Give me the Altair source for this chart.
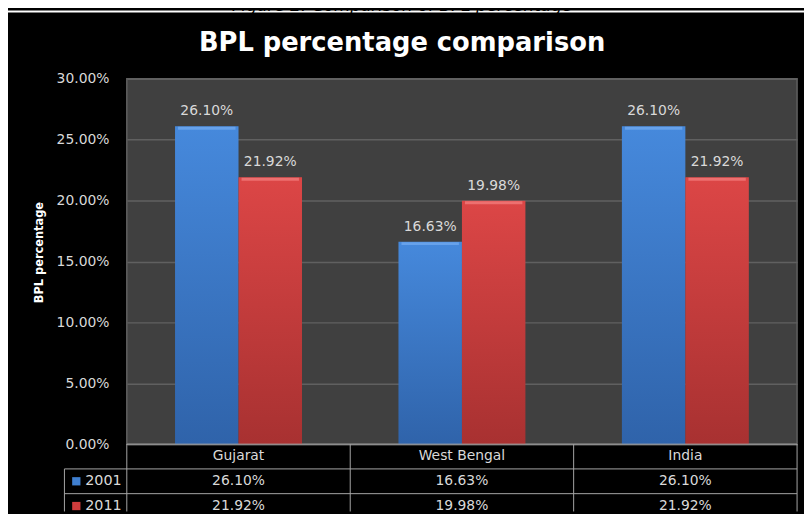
import altair as alt
import pandas as pd

# ---- data ----
categories = ["Gujarat", "West Bengal", "India"]
years = ["2001", "2011"]
bpl_2001 = [26.10, 16.63, 26.10]
bpl_2011 = [21.92, 19.98, 21.92]
y_ticks = [0, 0.05, 0.10, 0.15, 0.20, 0.25, 0.30]
title_text = "BPL percentage comparison"
caption_text = "Figure 2: Comparison of BPL percentage"
y_title = "BPL percentage"

rows = []
for c, a, b in zip(categories, bpl_2001, bpl_2011):
    rows.append({"Category": c, "Year": "2001", "value": a / 100})
    rows.append({"Category": c, "Year": "2011", "value": b / 100})
df = pd.DataFrame(rows)

table_rows = []
for c in categories:
    table_rows.append({"Category": c, "row": "h", "text": c})
for r in rows:
    table_rows.append({"Category": r["Category"], "row": r["Year"], "text": f"{r['value']*100:.2f}%"})
tdf = pd.DataFrame(table_rows)
ldf = pd.DataFrame({"row": years, "text": years})
one = pd.DataFrame({"k": [0]})

FONT = "DejaVu Sans"
TXT = "#d9d9d9"
LINE = "#a6a6a6"
W, H = 677, 369

blue = alt.Gradient(gradient="linear", x1=0, x2=0, y1=0, y2=1,
                    stops=[alt.GradientStop(color="#4689dc", offset=0),
                           alt.GradientStop(color="#2f63aa", offset=1)])
red = alt.Gradient(gradient="linear", x1=0, x2=0, y1=0, y2=1,
                   stops=[alt.GradientStop(color="#dc4646", offset=0),
                          alt.GradientStop(color="#a83131", offset=1)])
colors = {"2001": blue, "2011": red}
bevel = {"2001": "#6aa5ec", "2011": "#ee7474"}

xscale = alt.Scale(domain=categories, paddingInner=0, paddingOuter=0)
xoff = alt.XOffset("Year:N", scale=alt.Scale(domain=years, paddingOuter=0.76, paddingInner=0))
yscale = alt.Scale(domain=[0, 0.30], nice=False)
rowscale = alt.Scale(type="point", domain=["h"] + years, range=[381.5, 431.5], padding=0)

# thin white strip at the very top holding the (cut-off) figure caption
top_strip = alt.Chart(one).mark_rect(color="white").encode(
    x=alt.value(-120), x2=alt.value(W + 7), y=alt.value(-69), y2=alt.value(-67)
)
caption = alt.Chart(one).mark_text(
    text=caption_text, font=FONT, fontStyle="italic", fontSize=17, color="black",
    baseline="alphabetic", align="center"
).encode(x=alt.value(278), y=alt.value(-69))
title = alt.Chart(one).mark_text(
    text=title_text, font=FONT, fontSize=26, fontWeight="bold", color="white",
    baseline="middle", align="center"
).encode(x=alt.value(278), y=alt.value(-36))

bar_layers = []
bevel_layers = []
label_layers = []
for i, yr in enumerate(years):
    base = alt.Chart(df).transform_filter(alt.datum.Year == yr)
    yaxis = alt.Axis(values=y_ticks, format=".2%", tickSize=0, domain=False,
                     labelPadding=18, labelFont=FONT, labelFontSize=14, labelColor=TXT,
                     gridColor="#606060", gridWidth=1.5,
                     title=y_title, titleFont=FONT, titleFontSize=11.5, titleFontWeight="bold",
                     titleColor="white", titleAngle=270, titleX=-88, titleY=175,
                     titleAlign="center", titleBaseline="middle") if i == 0 else None
    enc_x = alt.X("Category:N", scale=xscale, axis=None, sort=categories)
    bar_layers.append(base.mark_bar(color=colors[yr]).encode(
        x=enc_x, xOffset=xoff,
        y=alt.Y("value:Q", scale=yscale, axis=yaxis),
    ))
    bevel_layers.append(base.mark_tick(color=bevel[yr], thickness=3, size=58, yOffset=2, opacity=0.9).encode(
        x=enc_x, xOffset=xoff,
        y=alt.Y("value:Q", scale=yscale, axis=None),
    ))
    label_layers.append(base.mark_text(
        font=FONT, fontSize=14, color=TXT, baseline="bottom", dy=-8
    ).encode(
        x=enc_x, xOffset=xoff,
        y=alt.Y("value:Q", scale=yscale, axis=None),
        text=alt.Text("value:Q", format=".2%"),
    ))

# table grid lines
hline0 = alt.Chart(one).mark_rule(color=LINE, strokeWidth=1).encode(
    x=alt.value(0), x2=alt.value(W), y=alt.value(H))
hline1 = alt.Chart(one).mark_rule(color=LINE, strokeWidth=1).encode(
    x=alt.value(-63), x2=alt.value(W), y=alt.value(394))
hline2 = alt.Chart(one).mark_rule(color=LINE, strokeWidth=1).encode(
    x=alt.value(-63), x2=alt.value(W), y=alt.value(419))
vleft = alt.Chart(one).mark_rule(color=LINE, strokeWidth=1).encode(
    x=alt.value(-63), y=alt.value(394), y2=alt.value(H + 68))
vright = alt.Chart(one).mark_rule(color=LINE, strokeWidth=1).encode(
    x=alt.value(W), y=alt.value(H), y2=alt.value(H + 68))
vcat = alt.Chart(pd.DataFrame({"Category": categories})).mark_rule(color=LINE, strokeWidth=1).encode(
    x=alt.X("Category:N", scale=xscale, axis=None, sort=categories, bandPosition=0),
    y=alt.value(H), y2=alt.value(H + 68))

table_text = alt.Chart(tdf).mark_text(font=FONT, fontSize=14, color=TXT, baseline="middle").encode(
    x=alt.X("Category:N", scale=xscale, axis=None, sort=categories, bandPosition=0.5),
    y=alt.Y("row:N", scale=rowscale, axis=None),
    text="text:N",
)
legend_sq = alt.Chart(ldf).mark_square(size=70, opacity=1).encode(
    x=alt.value(-51),
    y=alt.Y("row:N", scale=rowscale, axis=None),
    color=alt.Color("row:N", scale=alt.Scale(domain=years, range=["#3f7fd0", "#d03c3c"]), legend=None),
)
legend_txt = alt.Chart(ldf).mark_text(font=FONT, fontSize=14.5, color=TXT, baseline="middle", align="left").encode(
    x=alt.value(-42),
    y=alt.Y("row:N", scale=rowscale, axis=None),
    text="text:N",
)

chart = alt.layer(
    *bar_layers, *bevel_layers, *label_layers,
    hline0, hline1, hline2, vleft, vright, vcat, table_text, legend_sq, legend_txt,
    top_strip, caption, title
).resolve_scale(y="independent", color="independent").properties(
    width=W, height=H,
    padding={"left": 120, "top": 69, "right": 7, "bottom": 68},
    autosize=alt.AutoSizeParams(type="none"),
    background="black",
).configure_view(fill="#404040", stroke="#606060", strokeWidth=1.5)

chart.save("out.html", embed_options={"renderer": "svg", "actions": False})
